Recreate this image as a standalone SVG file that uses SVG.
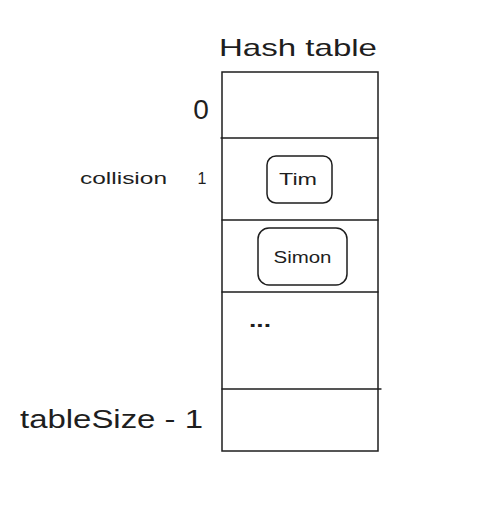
<svg xmlns="http://www.w3.org/2000/svg" width="495" height="511" viewBox="0 0 495 511">
<style>
.ln{stroke:#1e1e1e;stroke-width:1.4;fill:none;stroke-linecap:round}
.bx{stroke:#1e1e1e;stroke-width:1.5;fill:none}
.t{font-family:"Liberation Sans",Arial,sans-serif;fill:#1e1e1e}
</style>
<rect width="495" height="511" fill="#ffffff"/>
<g id="title"><text class="t" x="298" y="56" font-size="24" text-anchor="middle" textLength="158" lengthAdjust="spacingAndGlyphs">Hash table</text></g>
<g id="table">
<rect class="bx" x="222" y="72" width="156" height="379"/>
<line class="ln" x1="221" y1="138" x2="378" y2="138"/>
<line class="ln" x1="222" y1="220" x2="378" y2="220"/>
<line class="ln" x1="222" y1="292" x2="378" y2="292"/>
<line class="ln" x1="222" y1="389" x2="381" y2="389"/>
</g>
<g id="label-0"><text class="t" x="201" y="119" font-size="28" text-anchor="middle">0</text></g>
<g id="label-collision"><text class="t" x="80" y="184" font-size="16" textLength="87" lengthAdjust="spacingAndGlyphs">collision</text></g>
<g id="label-1"><text class="t" x="202" y="184" font-size="16" text-anchor="middle">1</text></g>
<g id="node-tim">
<rect class="bx" x="267" y="156" width="65" height="47" rx="9"/>
<text class="t" x="298" y="185" font-size="16" text-anchor="middle" textLength="38" lengthAdjust="spacingAndGlyphs">Tim</text>
</g>
<g id="node-simon">
<rect class="bx" x="258" y="228" width="89" height="57" rx="11"/>
<text class="t" x="302.5" y="263" font-size="16" text-anchor="middle" textLength="58" lengthAdjust="spacingAndGlyphs">Simon</text>
</g>
<g id="dots"><text class="t" x="260" y="327" font-size="20" font-weight="bold" text-anchor="middle" textLength="22" lengthAdjust="spacingAndGlyphs">...</text></g>
<g id="label-last"><text class="t" x="20" y="428" font-size="26" textLength="183" lengthAdjust="spacingAndGlyphs">tableSize - 1</text></g>
</svg>
